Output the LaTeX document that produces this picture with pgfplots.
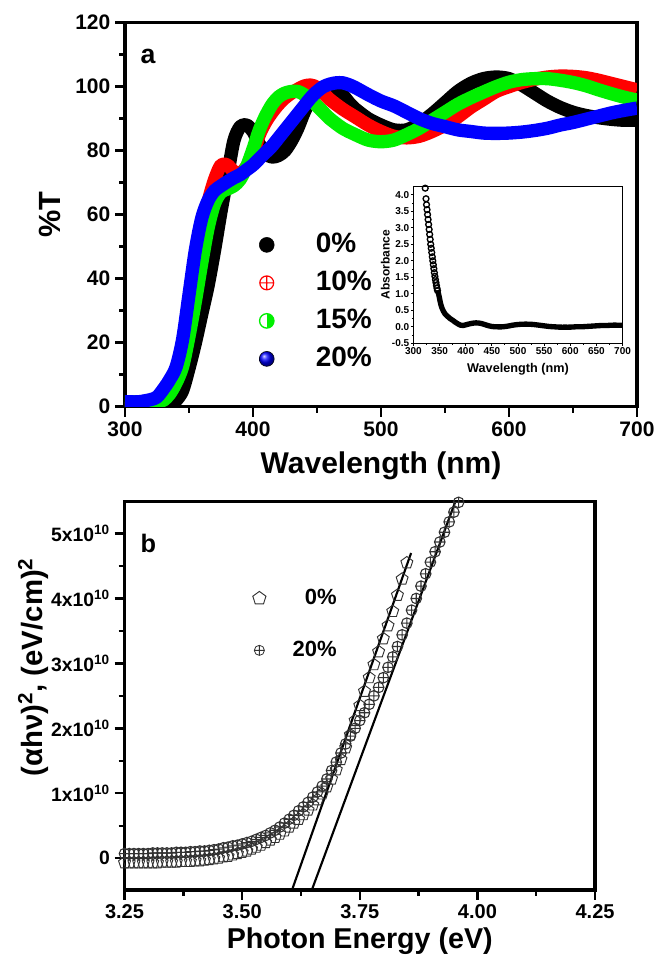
\documentclass[border=0pt]{standalone}
\usepackage{fontspec}
\setmainfont{Liberation Sans}
\usepackage{pgfplots}
\pgfplotsset{compat=1.18, /pgf/number format/assume math mode=true}
\definecolor{cRed}{RGB}{255,0,0}
\definecolor{cGreen}{RGB}{0,240,0}
\definecolor{cBlue}{RGB}{0,0,255}
\definecolor{cGray}{RGB}{50,50,50}
\begin{document}
\begin{tikzpicture}
\path[use as bounding box] (0,0) rectangle (494.25pt,718.5pt);
% ---------------- panel a ----------------
\begin{axis}[
  at={(93.75pt,413.5pt)}, anchor=south west,
  scale only axis, width=384pt, height=288pt,
  xmin=300, xmax=700, ymin=0, ymax=120,
  xtick={300,400,...,700}, ytick={0,20,...,120},
  minor x tick num=1, minor y tick num=1,
  axis line style={line width=2.6pt},
  tick style={line width=1.8pt, black},
  major tick length=7.5pt, minor tick length=4.5pt,
  tick align=outside, xtick pos=bottom, ytick pos=left,
  tick label style={font=\fontsize{15.75pt}{18pt}\selectfont\bfseries},
  xlabel={Wavelength (nm)}, ylabel={\%T},
  xlabel style={at={(axis description cs:0.5,-0.154)}, anchor=center, font=\fontsize{22.5pt}{26pt}\selectfont\bfseries},
  ylabel style={at={(axis description cs:-0.146,0.5)}, anchor=center, font=\fontsize{23pt}{26pt}\selectfont\bfseries},
  legend style={at={(axis cs:404.5,54.6)}, anchor=north west, draw=none, fill=none,
    font=\fontsize{21pt}{25pt}\selectfont\bfseries, inner sep=0pt, row sep=9.5pt,
    nodes={text height=15pt, text depth=4pt, inner ysep=0pt}},
  legend cell align=left,
  legend image code/.code={\draw[#1] plot coordinates {(0pt,0pt)};},
]
\addplot[black, line width=10pt, smooth, line join=round, forget plot] coordinates {
(300,1.5)(310,1.5)(320,1.4)(330,1.3)(336,1.2)(340,2)(345,5)(350,12)(355,20)(360,29)(365,38)(370,49)(375,61)(380,72)(385,83)(390,87.5)(395,88)(400,86)(405,82)(410,79)(415,78)(420,78.5)(425,80)(430,83)(435,87)(440,92)(445,96)(450,98.5)(455,99.5)(460,99.8)(465,99.2)(470,97.5)(475,95)(480,93)(490,90)(500,88)(510,86.5)(520,86.5)(530,88.5)(540,91.5)(550,95)(560,98.5)(570,101)(580,102.5)(590,103)(600,102.5)(610,100.5)(620,98)(630,95.5)(640,93.5)(650,92)(660,91)(670,90.3)(680,89.8)(690,89.5)(700,89.5)};
\addplot[cRed, line width=10pt, smooth, line join=round, forget plot] coordinates {
(300,1.5)(310,1.5)(320,1.6)(325,2)(330,3)(335,5.5)(340,10)(345,17)(350,29)(355,41)(360,53)(365,64)(370,71)(375,75.5)(380,75.5)(385,73.5)(390,73)(395,75)(400,79)(405,85)(410,89)(415,92)(420,94.5)(425,96.5)(430,98)(435,99.2)(440,100.2)(445,100.5)(450,99.8)(455,98)(460,96)(470,93)(480,90.5)(490,88)(500,86)(510,84.5)(520,84)(530,84.5)(540,86)(550,88)(560,90.5)(570,93.5)(580,96)(590,98.5)(600,100)(610,101.3)(620,102.3)(630,103)(640,103.3)(650,103.2)(660,102.8)(670,102)(680,101)(690,100)(700,99)};
\addplot[cGreen, line width=10pt, smooth, line join=round, forget plot] coordinates {
(300,1.5)(310,1.5)(320,1.5)(325,1.5)(330,2)(335,4)(340,7.5)(345,12.5)(350,22)(355,33)(360,45)(365,56)(370,63.5)(375,67)(380,68)(385,69)(390,71)(395,75)(400,80.5)(405,86.5)(410,91)(415,94.5)(420,96.8)(425,98)(430,98.5)(435,98.5)(440,97.5)(445,96)(450,94)(455,92)(460,90)(470,87)(480,85)(490,83.3)(500,82.8)(510,83.3)(520,85)(530,87)(540,89.5)(550,92)(560,94.5)(570,96.5)(580,98.3)(590,100)(600,101.4)(610,102.2)(620,102.5)(630,102.5)(640,102)(650,101.3)(660,100.3)(670,99)(680,97.8)(690,96.7)(700,95.8)};
\addplot[cBlue, line width=10pt, smooth, line join=round, forget plot] coordinates {
(300,1.5)(310,1.5)(315,1.8)(320,2.2)(325,3)(330,5.5)(335,8.5)(340,12.5)(345,21)(350,35)(355,49)(360,59)(365,64.5)(370,67.5)(375,69)(380,70.3)(385,71.5)(390,72.5)(395,74)(400,75.5)(405,77.5)(410,79.5)(415,81.5)(420,84)(425,86.5)(430,89)(435,91.5)(440,94)(445,96.5)(450,98.5)(455,100)(460,100.8)(465,101.2)(470,101.2)(475,100.6)(480,99.7)(490,97.5)(500,95.5)(510,94)(520,92)(530,90)(540,88.5)(550,87.5)(560,86.5)(570,86)(580,85.5)(590,85.4)(600,85.5)(610,85.8)(620,86.3)(630,87)(640,88)(650,88.8)(660,89.8)(670,90.8)(680,91.8)(690,92.6)(700,93.3)};
\addlegendimage{only marks, mark=*, black, mark size=5.6pt}
\addlegendentry{\hspace*{29pt}0\%}
\addlegendimage{only marks, mark=oplus, cRed, mark size=5.2pt, line width=0.9pt}
\addlegendentry{\hspace*{29pt}10\%}
\addlegendimage{only marks, mark=halfcircle*, cGreen, mark size=5.4pt, line width=1pt, mark options={rotate=-90, fill=cGreen, draw=cGreen}}
\addlegendentry{\hspace*{29pt}15\%}
\addlegendimage{only marks, mark=ball, ball color=cBlue, mark size=5.6pt}
\addlegendentry{\hspace*{29pt}20\%}
\node[font=\fontsize{20pt}{24pt}\selectfont\bfseries] at (axis cs:318,109.4) {a};
\end{axis}
% ---------------- inset ----------------
\begin{axis}[
  at={(310.1pt,461.0pt)}, anchor=south west,
  scale only axis, width=156.8pt, height=117.6pt,
  axis background/.style={fill=white},
  xmin=300, xmax=700, ymin=-0.5, ymax=4.25,
  xtick={300,350,...,700}, ytick={-0.5,0,0.5,1,1.5,2,2.5,3,3.5,4},
  yticklabels={-0.5,0.0,0.5,1.0,1.5,2.0,2.5,3.0,3.5,4.0},
  minor x tick num=1, minor y tick num=1,
  axis line style={line width=0.9pt},
  tick style={line width=0.7pt, black},
  major tick length=2pt, minor tick length=1.2pt,
  tick align=outside, xtick pos=bottom, ytick pos=left,
  tick label style={font=\fontsize{7.5pt}{9pt}\selectfont\bfseries, inner sep=1pt},
  xlabel={Wavelength (nm)}, ylabel={Absorbance},
  xlabel style={at={(axis description cs:0.5,-0.165)}, anchor=center, font=\fontsize{9.5pt}{11pt}\selectfont\bfseries},
  ylabel style={at={(axis description cs:-0.135,0.5)}, anchor=center, font=\fontsize{9pt}{11pt}\selectfont\bfseries},
]
\addplot[black, line width=4pt, smooth, line join=round] coordinates {
(346,1.1)(348,1.0)(350,0.85)(352,0.7)(355,0.55)(360,0.4)(365,0.32)(370,0.25)(375,0.2)(380,0.14)(385,0.09)(390,0.05)(395,0.04)(400,0.06)(410,0.1)(420,0.12)(430,0.1)(440,0.05)(450,0.01)(460,0.0)(470,0.0)(480,0.02)(490,0.05)(500,0.07)(510,0.08)(520,0.08)(530,0.07)(540,0.05)(550,0.03)(560,0.01)(570,0.0)(580,-0.01)(590,-0.01)(600,-0.01)(610,0.0)(620,0.0)(630,0.01)(640,0.02)(650,0.03)(660,0.04)(670,0.04)(680,0.05)(690,0.05)(700,0.05)};
\addplot[black, only marks, mark=o, mark size=2.2pt, line width=1pt] coordinates {
(322.5,4.2)(324,3.88)(325,3.7)(326,3.55)(327,3.4)(328,3.25)(329,3.1)(330,2.95)(331,2.8)(332,2.65)(333,2.5)(334,2.38)(335,2.25)(336,2.12)(337,2.0)(338,1.88)(339,1.76)(340,1.64)(341,1.53)(342,1.43)(343,1.34)(344,1.25)(345,1.17)(346,1.1)};
\end{axis}
% ---------------- panel b ----------------
\begin{axis}[
  at={(93.4pt,51.0pt)}, anchor=south west,
  scale only axis, width=352.9pt, height=291.2pt,
  xmin=3.25, xmax=4.25, ymin=-0.49, ymax=5.49,
  xtick={3.25,3.5,3.75,4,4.25},
  xticklabel style={/pgf/number format/.cd, fixed, fixed zerofill, precision=2},
  ytick={0,1,2,3,4,5},
  yticklabels={0, 1x10\textsuperscript{10}, 2x10\textsuperscript{10}, 3x10\textsuperscript{10}, 4x10\textsuperscript{10}, 5x10\textsuperscript{10}},
  minor x tick num=1, minor y tick num=1,
  axis line style={line width=2.6pt},
  tick style={line width=1.8pt, black},
  major tick length=7.5pt, minor tick length=4.5pt,
  tick align=outside, xtick pos=bottom, ytick pos=left,
  tick label style={font=\fontsize{15pt}{18pt}\selectfont\bfseries},
  yticklabel style={font=\fontsize{14.5pt}{17pt}\selectfont\bfseries},
  xlabel={Photon Energy (eV)},
  ylabel={(αhν)\textsuperscript{2}, (eV/cm)\textsuperscript{2}},
  xlabel style={at={(axis description cs:0.5,-0.131)}, anchor=center, font=\fontsize{21.5pt}{25pt}\selectfont\bfseries},
  ylabel style={at={(axis description cs:-0.194,0.574)}, anchor=center, font=\fontsize{22pt}{25pt}\selectfont\bfseries},
  legend style={at={(axis cs:3.522,4.16)}, anchor=north west, draw=none, fill=none,
    font=\fontsize{16.5pt}{20pt}\selectfont\bfseries, inner sep=0pt, row sep=24pt,
    nodes={text height=12pt, text depth=3pt, inner ysep=0pt}},
  legend cell align=right,
  legend image code/.code={\draw[#1] plot coordinates {(0pt,0pt)};},
]
\addplot[cGray, only marks, mark=pentagon, mark size=4.7pt, line width=0.7pt, forget plot] coordinates {
(3.25,-0.07)(3.26,-0.07)(3.27,-0.07)(3.28,-0.07)(3.29,-0.07)(3.30,-0.07)(3.31,-0.07)(3.32,-0.07)(3.33,-0.06)(3.34,-0.06)(3.35,-0.06)(3.36,-0.06)(3.37,-0.05)(3.38,-0.05)(3.39,-0.05)(3.40,-0.04)(3.41,-0.04)(3.42,-0.03)(3.43,-0.02)(3.44,-0.01)(3.45,0.0)(3.46,0.02)(3.47,0.03)(3.48,0.05)(3.49,0.07)(3.50,0.09)(3.51,0.11)(3.52,0.14)(3.53,0.17)(3.54,0.2)(3.55,0.24)(3.56,0.28)(3.57,0.32)(3.58,0.37)(3.59,0.42)(3.60,0.48)(3.61,0.54)(3.62,0.6)(3.63,0.67)(3.64,0.74)(3.65,0.82)(3.66,0.9)(3.67,0.99)(3.68,1.1)(3.69,1.22)(3.70,1.36)(3.71,1.52)(3.72,1.7)(3.73,1.9)(3.74,2.12)(3.75,2.35)(3.76,2.57)(3.77,2.78)(3.78,2.98)(3.79,3.18)(3.80,3.38)(3.81,3.58)(3.82,3.8)(3.83,4.05)(3.84,4.3)(3.85,4.55)};
\addplot[cGray, only marks, mark=oplus, mark size=4pt, line width=0.8pt, forget plot] coordinates {
(3.25,0.07)(3.26,0.07)(3.27,0.07)(3.28,0.07)(3.29,0.07)(3.30,0.07)(3.31,0.08)(3.32,0.08)(3.33,0.08)(3.34,0.08)(3.35,0.08)(3.36,0.09)(3.37,0.09)(3.38,0.09)(3.39,0.1)(3.40,0.1)(3.41,0.11)(3.42,0.11)(3.43,0.12)(3.44,0.13)(3.45,0.14)(3.46,0.16)(3.47,0.17)(3.48,0.19)(3.49,0.2)(3.50,0.22)(3.51,0.24)(3.52,0.26)(3.53,0.29)(3.54,0.32)(3.55,0.35)(3.56,0.39)(3.57,0.43)(3.58,0.48)(3.59,0.54)(3.60,0.6)(3.61,0.66)(3.62,0.73)(3.63,0.79)(3.64,0.86)(3.65,0.94)(3.66,1.02)(3.67,1.11)(3.68,1.22)(3.69,1.35)(3.70,1.48)(3.71,1.62)(3.72,1.76)(3.73,1.88)(3.74,2.0)(3.75,2.12)(3.76,2.24)(3.77,2.37)(3.78,2.5)(3.79,2.63)(3.80,2.78)(3.81,2.94)(3.82,3.1)(3.83,3.26)(3.84,3.44)(3.85,3.62)(3.86,3.82)(3.87,4.0)(3.88,4.19)(3.89,4.38)(3.90,4.56)(3.91,4.72)(3.92,4.87)(3.93,5.02)(3.94,5.18)(3.95,5.33)(3.96,5.48)};
\addplot[black, line width=1.6pt, forget plot] coordinates {(3.603,-0.55) (3.859,4.7)};
\addplot[black, line width=1.6pt, forget plot] coordinates {(3.645,-0.55) (3.956,5.55)};
\addlegendimage{only marks, mark=pentagon, cGray, mark size=5.2pt, line width=0.7pt}
\addlegendentry{0\%}
\addlegendimage{only marks, mark=oplus, cGray, mark size=3.8pt, line width=0.6pt}
\addlegendentry{\hspace*{18pt}20\%}
\node[font=\fontsize{19pt}{22pt}\selectfont\bfseries] at (axis cs:3.3006,4.85) {b};
\end{axis}
\end{tikzpicture}
\end{document}
